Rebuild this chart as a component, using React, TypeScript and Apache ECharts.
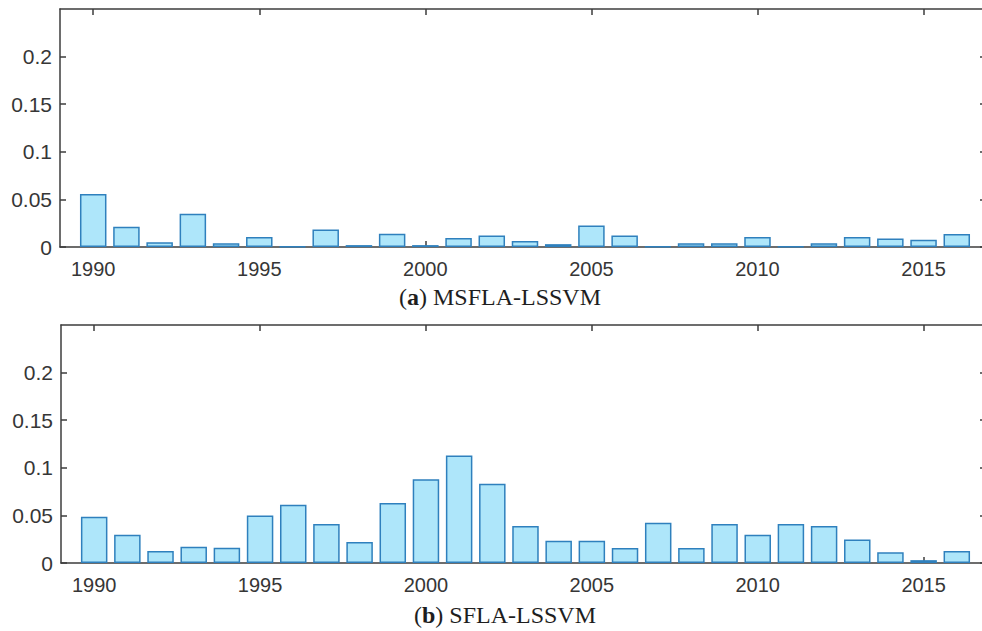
import React, { useEffect, useRef } from "react";
import * as echarts from "echarts";

const years: number[] = [
  1990, 1991, 1992, 1993, 1994, 1995, 1996, 1997, 1998, 1999, 2000, 2001, 2002, 2003,
  2004, 2005, 2006, 2007, 2008, 2009, 2010, 2011, 2012, 2013, 2014, 2015, 2016,
];
const msflaValues: number[] = [
  0.0556, 0.0213, 0.005, 0.035, 0.004, 0.0105, 0.0005, 0.0185, 0.002, 0.014, 0.002, 0.0094, 0.012, 0.0063,
  0.003, 0.0227, 0.012, 0.0005, 0.004, 0.004, 0.0105, 0.0005, 0.004, 0.0105, 0.009, 0.0077, 0.0136,
];
const sflaValues: number[] = [
  0.0486, 0.0297, 0.0126, 0.0171, 0.016, 0.05, 0.0612, 0.0409, 0.022, 0.063, 0.0881, 0.1129, 0.0832, 0.0388,
  0.0234, 0.0234, 0.0157, 0.0423, 0.0157, 0.0409, 0.0297, 0.0409, 0.0388, 0.0248, 0.0112, 0.003, 0.0126,
];
const xTickValues: number[] = [1990, 1995, 2000, 2005, 2010, 2015];
const yTickValues: number[] = [0, 0.05, 0.1, 0.15, 0.2];
const captionA = "MSFLA-LSSVM";
const captionB = "SFLA-LSSVM";

const AXIS_COLOR = "#3c3c3c";
const LABEL_COLOR = "#363636";
const BAR_FILL = "#aee6fa";
const BAR_EDGE = "#2f80bd";
const X_MIN = 1989;
const X_MAX = 2016.88;

export default function App() {
  const ref = useRef<HTMLDivElement>(null);
  useEffect(() => {
    if (!ref.current) return;
    const chart = echarts.init(ref.current, undefined, { renderer: "svg" });

    const grids = [
      { left: 60, top: 9, width: 926, height: 238, outerBoundsMode: "none", containLabel: false },
      { left: 61, top: 325, width: 925, height: 238, outerBoundsMode: "none", containLabel: false },
    ];

    const xAxes: any[] = [];
    const yAxes: any[] = [];
    grids.forEach((_, gi) => {
      xAxes.push({
        type: "value",
        gridIndex: gi,
        position: "bottom",
        min: X_MIN,
        max: X_MAX,
        splitLine: { show: false },
        axisLine: { show: true, onZero: false, lineStyle: { color: AXIS_COLOR, width: 1.5 } },
        axisTick: { show: true, inside: true, length: 6, customValues: xTickValues, lineStyle: { color: AXIS_COLOR, width: 1.5 } },
        axisLabel: {
          show: true,
          customValues: xTickValues,
          margin: 12,
          color: LABEL_COLOR,
          fontSize: 20,
          fontFamily: "Liberation Sans, Arial, sans-serif",
          formatter: (v: number) => String(v),
        },
      });
      xAxes.push({
        type: "value",
        gridIndex: gi,
        position: "top",
        min: X_MIN,
        max: X_MAX,
        splitLine: { show: false },
        axisLine: { show: true, onZero: false, lineStyle: { color: AXIS_COLOR, width: 1.5 } },
        axisTick: { show: true, inside: true, length: 6, customValues: xTickValues, lineStyle: { color: AXIS_COLOR, width: 1.5 } },
        axisLabel: { show: false },
      });
      yAxes.push({
        type: "value",
        gridIndex: gi,
        position: "left",
        min: 0,
        max: 0.25,
        splitLine: { show: false },
        axisLine: { show: true, onZero: false, lineStyle: { color: AXIS_COLOR, width: 1.5 } },
        axisTick: { show: true, inside: true, length: 6, customValues: yTickValues, lineStyle: { color: AXIS_COLOR, width: 1.5 } },
        axisLabel: {
          show: true,
          customValues: yTickValues,
          margin: 8,
          color: LABEL_COLOR,
          fontSize: 21,
          fontFamily: "Liberation Sans, Arial, sans-serif",
          formatter: (v: number) => String(Math.round(v * 100) / 100),
        },
      });
      yAxes.push({
        type: "value",
        gridIndex: gi,
        position: "right",
        min: 0,
        max: 0.25,
        splitLine: { show: false },
        axisLine: { show: true, onZero: false, lineStyle: { color: AXIS_COLOR, width: 1.5 } },
        axisTick: { show: true, inside: true, length: 6, customValues: yTickValues, lineStyle: { color: AXIS_COLOR, width: 1.5 } },
        axisLabel: { show: false },
      });
    });

    const makeSeries = (values: number[], gi: number) => ({
      type: "bar",
      xAxisIndex: gi * 2,
      yAxisIndex: gi * 2,
      data: years.map((y, i) => [y, values[i]]),
      barWidth: 26.5,
      itemStyle: { color: BAR_FILL, borderColor: BAR_EDGE, borderWidth: 1.5 },
      emphasis: { disabled: true },
      silent: true,
    });

    const captionStyle = (label: string, text: string, x: number, y: number) => ({
      type: "text",
      x,
      y,
      style: {
        text: `{n|(}{b|${label}}{n|) ${text}}`,
        align: "center",
        verticalAlign: "middle",
        rich: {
          n: { fontFamily: "Liberation Serif, Times New Roman, serif", fontSize: 24, fill: "#1e1e1e", color: "#1e1e1e" },
          b: { fontFamily: "Liberation Serif, Times New Roman, serif", fontSize: 24, fontWeight: "bold", fill: "#1e1e1e", color: "#1e1e1e" },
        },
      },
    });

    chart.setOption({
      animation: false,
      backgroundColor: "#ffffff",
      grid: grids,
      xAxis: xAxes,
      yAxis: yAxes,
      series: [makeSeries(msflaValues, 0), makeSeries(sflaValues, 1)],
      graphic: [
        captionStyle("a", captionA, 500, 297),
        captionStyle("b", captionB, 505, 615),
      ],
    });

    return () => chart.dispose();
  }, []);

  return (
    <div
      ref={ref}
      style={{ position: "fixed", left: 0, top: 0, width: 982, height: 631, background: "#fff" }}
    />
  );
}
